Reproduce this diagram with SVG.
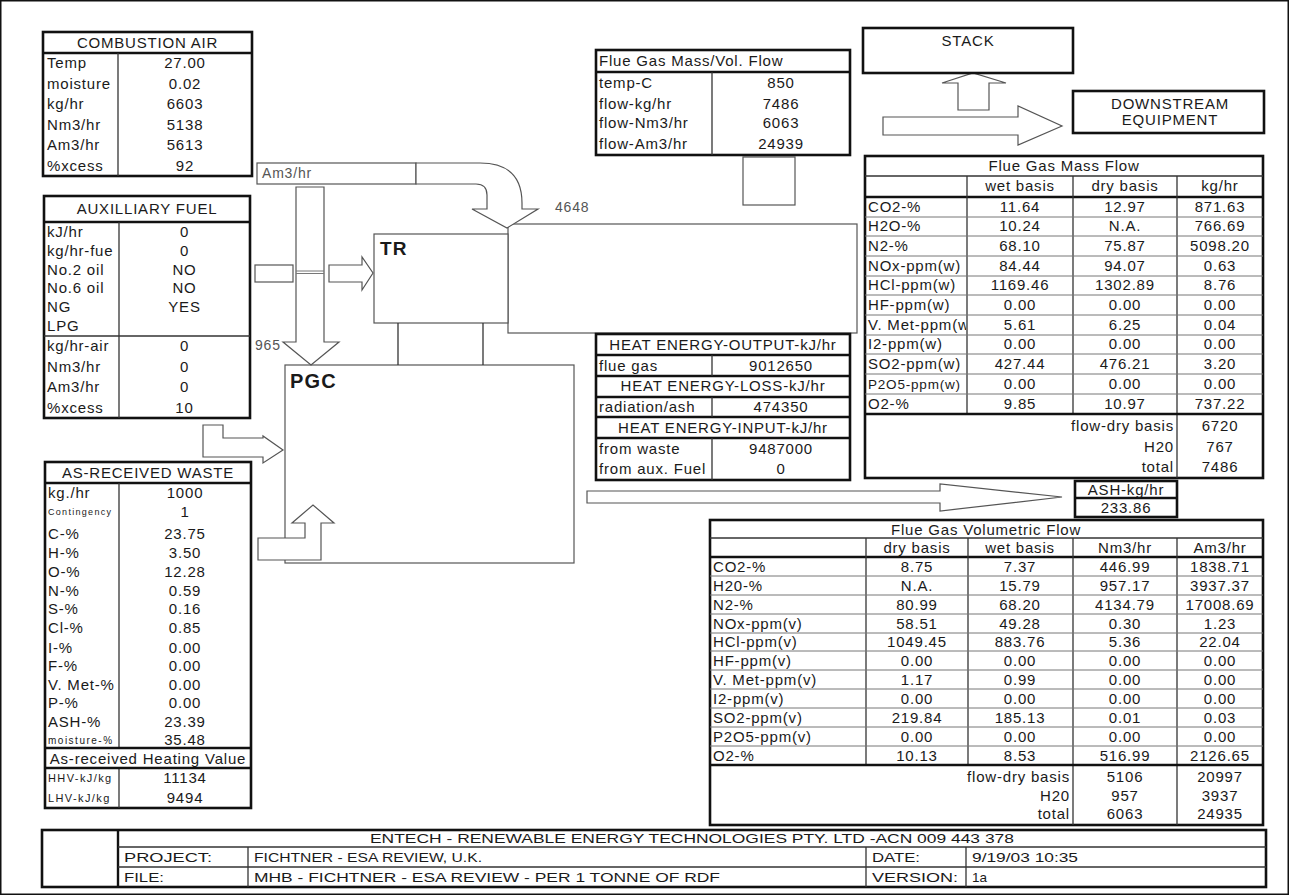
<svg xmlns="http://www.w3.org/2000/svg" width="1289" height="895" viewBox="0 0 1289 895">
<style>
text{font-family:"Liberation Sans",Arial,sans-serif;font-size:15px;letter-spacing:.8px;fill:#1a1a1a}
.c{text-anchor:middle}
.r{text-anchor:end}
.b{font-weight:bold;font-size:19px;letter-spacing:1.2px}
.g{fill:#555;font-size:14px}
.s9{font-size:9px;letter-spacing:1.3px}
.s10{font-size:10px;letter-spacing:1.5px}
.s11{font-size:11px;letter-spacing:1.4px}
.s13{font-size:13.5px}
.tt{font-size:13.5px;letter-spacing:0}
.tb{fill:none;stroke:#111;stroke-width:2.6}
.tk{stroke:#111;stroke-width:2.4}
.ln{stroke:#333;stroke-width:1.3}
.lt{stroke:#777;stroke-width:1}
.sh{fill:#fff;stroke:#555;stroke-width:1.2}
.ar{fill:#fff;stroke:#555;stroke-width:1.2;stroke-linejoin:miter}
</style>
<defs>
<clipPath id="cl1"><rect x="865" y="197" width="101" height="217"/></clipPath>
<clipPath id="cl2"><rect x="596" y="438" width="115" height="42"/></clipPath>
</defs>
<rect x="0.75" y="0.75" width="1287.5" height="893.5" fill="#fff" stroke="#111" stroke-width="1.5"/>

<g id="duct"><rect class="sh" x="508" y="224" width="349" height="109"/></g>
<g id="tr"><rect class="sh" x="374" y="234" width="134" height="89"/><text class="b" x="380" y="255">TR</text></g>
<g id="pgc"><rect class="sh" x="285" y="365" width="289" height="198"/><text class="b" x="290" y="388" style="font-size:20px">PGC</text></g>
<g id="am3-box"><rect class="sh" x="257" y="163" width="159" height="21"/><text class="g" x="262" y="178">Am3/hr</text></g>
<g id="small-box"><rect class="sh" x="743" y="157" width="52" height="48"/></g>

<g id="connectors">
<line class="ln" x1="398" y1="323" x2="398" y2="365"/>
<line class="ln" x1="483" y1="323" x2="483" y2="365"/>
<path class="ar" d="M416,163 L480,163 Q522,163 522,203 L522,209 L538,209 L507,228 L472,209 L487,209 L487,195 Q487,184 476,184 L416,184 Z"/>
<path class="ar" d="M296,187 L324,187 L324,342 L339,342 L311,365 L283,342 L296,342 Z"/>
<line class="lt" x1="296" y1="271" x2="324" y2="271"/>
<line class="lt" x1="296" y1="273.5" x2="324" y2="273.5"/>
<rect class="ar" x="255" y="265" width="38" height="17"/>
<path class="ar" d="M329,265 L362,265 L362,257 L373,273 L362,290 L362,282 L329,282 Z"/>
<path class="ar" d="M203,425 L223,425 L223,438 L263,438 L263,436 L283,450 L263,463 L263,457 L203,457 Z"/>
<path class="ar" d="M258,538 L305,538 L305,523 L292,523 L313,505 L334,523 L321,523 L321,560 L258,560 Z"/>
<path class="ar" d="M587,491 L940,491 L940,484 L1062,497 L940,511 L940,503 L587,503 Z"/>
<path class="ar" d="M958,110 L958,83 L942,83 L973,73 L1006,83 L989,83 L989,110 Z"/>
<path class="ar" d="M883,117 L1018,117 L1018,106 L1062,126 L1018,145 L1018,135 L883,135 Z"/>
<text class="g" x="555" y="212">4648</text>
<text class="g" x="255" y="350">965</text>
</g>

<g id="combustion-air">
<rect class="tb" x="43" y="32" width="209" height="144"/>
<line class="tk" x1="43" y1="53" x2="252" y2="53"/>
<line class="ln" x1="118" y1="53" x2="118" y2="176"/>
<text class="c" x="147.5" y="48">COMBUSTION AIR</text>
<text x="47" y="68">Temp</text><text class="c" x="185" y="68">27.00</text>
<text x="47" y="89">moisture</text><text class="c" x="185" y="89">0.02</text>
<text x="47" y="109">kg/hr</text><text class="c" x="185" y="109">6603</text>
<text x="47" y="130">Nm3/hr</text><text class="c" x="185" y="130">5138</text>
<text x="47" y="150">Am3/hr</text><text class="c" x="185" y="150">5613</text>
<text x="47" y="171">%xcess</text><text class="c" x="185" y="171">92</text>
</g>

<g id="auxilliary-fuel">
<rect class="tb" x="44" y="196" width="206" height="222"/>
<line class="tk" x1="44" y1="222" x2="250" y2="222"/>
<line class="ln" x1="119" y1="222" x2="119" y2="418"/>
<line class="ln" x1="44" y1="336" x2="250" y2="336"/>
<text class="c" x="147" y="214">AUXILLIARY FUEL</text>
<text x="47" y="237">kJ/hr</text><text class="c" x="184.5" y="237">0</text>
<text x="47" y="256">kg/hr-fue</text><text class="c" x="184.5" y="256">0</text>
<text x="47" y="275">No.2 oil</text><text class="c" x="184.5" y="275">NO</text>
<text x="47" y="293">No.6 oil</text><text class="c" x="184.5" y="293">NO</text>
<text x="47" y="312">NG</text><text class="c" x="184.5" y="312">YES</text>
<text x="47" y="331">LPG</text>
<text x="47" y="351">kg/hr-air</text><text class="c" x="184.5" y="351">0</text>
<text x="47" y="372">Nm3/hr</text><text class="c" x="184.5" y="372">0</text>
<text x="47" y="392">Am3/hr</text><text class="c" x="184.5" y="392">0</text>
<text x="47" y="413">%xcess</text><text class="c" x="184.5" y="413">10</text>
</g>

<g id="as-received-waste">
<rect class="tb" x="45" y="462" width="206" height="346"/>
<line class="tk" x1="45" y1="483" x2="251" y2="483"/>
<line class="ln" x1="119" y1="483" x2="119" y2="748"/>
<line class="ln" x1="119" y1="768" x2="119" y2="808"/>
<line class="tk" x1="45" y1="748" x2="251" y2="748"/>
<line class="tk" x1="45" y1="768" x2="251" y2="768"/>
<text class="c" x="148" y="478">AS-RECEIVED WASTE</text>
<text x="48" y="498">kg./hr</text><text class="c" x="185" y="498">1000</text>
<text class="s9" x="48" y="515">Contingency</text><text class="c" x="185" y="517">1</text>
<text x="48" y="539">C-%</text><text class="c" x="185" y="539">23.75</text>
<text x="48" y="558">H-%</text><text class="c" x="185" y="558">3.50</text>
<text x="48" y="577">O-%</text><text class="c" x="185" y="577">12.28</text>
<text x="48" y="596">N-%</text><text class="c" x="185" y="596">0.59</text>
<text x="48" y="614">S-%</text><text class="c" x="185" y="614">0.16</text>
<text x="48" y="633">Cl-%</text><text class="c" x="185" y="633">0.85</text>
<text x="48" y="653">I-%</text><text class="c" x="185" y="653">0.00</text>
<text x="48" y="671">F-%</text><text class="c" x="185" y="671">0.00</text>
<text x="48" y="690">V. Met-%</text><text class="c" x="185" y="690">0.00</text>
<text x="48" y="708">P-%</text><text class="c" x="185" y="708">0.00</text>
<text x="48" y="727">ASH-%</text><text class="c" x="185" y="727">23.39</text>
<text class="s10" x="48" y="744">moisture-%</text><text class="c" x="185" y="745">35.48</text>
<text class="c" x="148" y="764">As-received Heating Value</text>
<text class="s11" x="48" y="782">HHV-kJ/kg</text><text class="c" x="185" y="783">11134</text>
<text class="s11" x="48" y="802">LHV-kJ/kg</text><text class="c" x="185" y="803">9494</text>
</g>

<g id="flue-gas-mass-vol">
<rect class="tb" x="596" y="50" width="254" height="105"/>
<line class="tk" x1="596" y1="72" x2="850" y2="72"/>
<line class="ln" x1="712" y1="72" x2="712" y2="155"/>
<text x="599" y="66">Flue Gas Mass/Vol. Flow</text>
<text x="599" y="88">temp-C</text><text class="c" x="781" y="88">850</text>
<text x="599" y="109">flow-kg/hr</text><text class="c" x="781" y="109">7486</text>
<text x="599" y="128">flow-Nm3/hr</text><text class="c" x="781" y="128">6063</text>
<text x="599" y="149">flow-Am3/hr</text><text class="c" x="781" y="149">24939</text>
</g>

<g id="heat-energy">
<rect class="tb" x="596" y="334" width="254" height="146"/>
<line class="tk" x1="596" y1="355" x2="850" y2="355"/>
<line class="tk" x1="596" y1="376" x2="850" y2="376"/>
<line class="tk" x1="596" y1="397" x2="850" y2="397"/>
<line class="tk" x1="596" y1="417" x2="850" y2="417"/>
<line class="tk" x1="596" y1="438" x2="850" y2="438"/>
<line class="ln" x1="712" y1="355" x2="712" y2="376"/>
<line class="ln" x1="712" y1="397" x2="712" y2="417"/>
<line class="ln" x1="712" y1="438" x2="712" y2="480"/>
<text class="c" x="723" y="350">HEAT ENERGY-OUTPUT-kJ/hr</text>
<text x="599" y="371">flue gas</text><text class="c" x="781" y="371">9012650</text>
<text class="c" x="723" y="391">HEAT ENERGY-LOSS-kJ/hr</text>
<text x="599" y="412">radiation/ash</text><text class="c" x="781" y="412">474350</text>
<text class="c" x="723" y="433">HEAT ENERGY-INPUT-kJ/hr</text>
<text x="599" y="454">from waste</text><text class="c" x="781" y="454">9487000</text>
<text x="599" y="474" clip-path="url(#cl2)">from aux. Fuel</text><text class="c" x="781" y="474">0</text>
</g>

<g id="stack">
<rect class="tb" x="863" y="28" width="210" height="45"/>
<text class="c" x="968" y="46">STACK</text>
</g>
<g id="downstream">
<rect class="tb" x="1073" y="91" width="191" height="42"/>
<text class="c" x="1170" y="109">DOWNSTREAM</text>
<text class="c" x="1170" y="125">EQUIPMENT</text>
</g>

<g id="flue-gas-mass-flow">
<rect class="tb" x="865" y="156" width="398" height="322"/>
<line class="ln" x1="865" y1="176" x2="1263" y2="176"/>
<line class="tk" x1="865" y1="197" x2="1263" y2="197"/>
<line class="ln" x1="967" y1="176" x2="967" y2="414"/>
<line class="ln" x1="1073" y1="176" x2="1073" y2="414"/>
<line class="ln" x1="1177" y1="176" x2="1177" y2="478"/>
<g class="lt">
<line x1="865" y1="217" x2="1263" y2="217"/><line x1="865" y1="236" x2="1263" y2="236"/>
<line x1="865" y1="256" x2="1263" y2="256"/><line x1="865" y1="276" x2="1263" y2="276"/>
<line x1="865" y1="295" x2="1263" y2="295"/><line x1="865" y1="315" x2="1263" y2="315"/>
<line x1="865" y1="335" x2="1263" y2="335"/><line x1="865" y1="354" x2="1263" y2="354"/>
<line x1="865" y1="374" x2="1263" y2="374"/><line x1="865" y1="394" x2="1263" y2="394"/>
</g>
<line class="tk" x1="865" y1="414" x2="1263" y2="414"/>
<text class="c" x="1064" y="171">Flue Gas Mass Flow</text>
<text class="c" x="1020" y="191">wet basis</text><text class="c" x="1125" y="191">dry basis</text><text class="c" x="1220" y="191">kg/hr</text>
<text x="868" y="212">CO2-%</text><text class="c" x="1020" y="212">11.64</text><text class="c" x="1125" y="212">12.97</text><text class="c" x="1220" y="212">871.63</text>
<text x="868" y="231">H2O-%</text><text class="c" x="1020" y="231">10.24</text><text class="c" x="1125" y="231">N.A.</text><text class="c" x="1220" y="231">766.69</text>
<text x="868" y="251">N2-%</text><text class="c" x="1020" y="251">68.10</text><text class="c" x="1125" y="251">75.87</text><text class="c" x="1220" y="251">5098.20</text>
<text x="868" y="271">NOx-ppm(w)</text><text class="c" x="1020" y="271">84.44</text><text class="c" x="1125" y="271">94.07</text><text class="c" x="1220" y="271">0.63</text>
<text x="868" y="290">HCl-ppm(w)</text><text class="c" x="1020" y="290">1169.46</text><text class="c" x="1125" y="290">1302.89</text><text class="c" x="1220" y="290">8.76</text>
<text x="868" y="310">HF-ppm(w)</text><text class="c" x="1020" y="310">0.00</text><text class="c" x="1125" y="310">0.00</text><text class="c" x="1220" y="310">0.00</text>
<text x="868" y="330" clip-path="url(#cl1)">V. Met-ppm(w</text><text class="c" x="1020" y="330">5.61</text><text class="c" x="1125" y="330">6.25</text><text class="c" x="1220" y="330">0.04</text>
<text x="868" y="349">I2-ppm(w)</text><text class="c" x="1020" y="349">0.00</text><text class="c" x="1125" y="349">0.00</text><text class="c" x="1220" y="349">0.00</text>
<text x="868" y="369">SO2-ppm(w)</text><text class="c" x="1020" y="369">427.44</text><text class="c" x="1125" y="369">476.21</text><text class="c" x="1220" y="369">3.20</text>
<text class="s13" x="868" y="389">P2O5-ppm(w)</text><text class="c" x="1020" y="389">0.00</text><text class="c" x="1125" y="389">0.00</text><text class="c" x="1220" y="389">0.00</text>
<text x="868" y="409">O2-%</text><text class="c" x="1020" y="409">9.85</text><text class="c" x="1125" y="409">10.97</text><text class="c" x="1220" y="409">737.22</text>
<text class="r" x="1174" y="431">flow-dry basis</text><text class="c" x="1220" y="431">6720</text>
<text class="r" x="1174" y="452">H20</text><text class="c" x="1220" y="452">767</text>
<text class="r" x="1174" y="472">total</text><text class="c" x="1220" y="472">7486</text>
</g>

<g id="ash">
<rect class="tb" x="1075" y="481" width="102" height="36"/>
<line class="tk" x1="1075" y1="498" x2="1177" y2="498"/>
<text class="c" x="1126" y="495">ASH-kg/hr</text>
<text class="c" x="1126" y="513">233.86</text>
</g>

<g id="flue-gas-volumetric-flow">
<rect class="tb" x="710" y="520" width="553" height="305"/>
<line class="ln" x1="710" y1="538" x2="1263" y2="538"/>
<line class="tk" x1="710" y1="557" x2="1263" y2="557"/>
<line class="ln" x1="866" y1="538" x2="866" y2="765"/>
<line class="ln" x1="968" y1="538" x2="968" y2="765"/>
<line class="ln" x1="1073" y1="538" x2="1073" y2="825"/>
<line class="ln" x1="1177" y1="538" x2="1177" y2="825"/>
<g class="lt">
<line x1="710" y1="576" x2="1263" y2="576"/><line x1="710" y1="595" x2="1263" y2="595"/>
<line x1="710" y1="614" x2="1263" y2="614"/><line x1="710" y1="633" x2="1263" y2="633"/>
<line x1="710" y1="651" x2="1263" y2="651"/><line x1="710" y1="670" x2="1263" y2="670"/>
<line x1="710" y1="689" x2="1263" y2="689"/><line x1="710" y1="708" x2="1263" y2="708"/>
<line x1="710" y1="727" x2="1263" y2="727"/><line x1="710" y1="746" x2="1263" y2="746"/>
</g>
<line class="tk" x1="710" y1="765" x2="1263" y2="765"/>
<text class="c" x="986" y="535">Flue Gas Volumetric Flow</text>
<text class="c" x="917" y="553">dry basis</text><text class="c" x="1020" y="553">wet basis</text><text class="c" x="1125" y="553">Nm3/hr</text><text class="c" x="1220" y="553">Am3/hr</text>
<text x="713" y="572">CO2-%</text><text class="c" x="917" y="572">8.75</text><text class="c" x="1020" y="572">7.37</text><text class="c" x="1125" y="572">446.99</text><text class="c" x="1220" y="572">1838.71</text>
<text x="713" y="591">H20-%</text><text class="c" x="917" y="591">N.A.</text><text class="c" x="1020" y="591">15.79</text><text class="c" x="1125" y="591">957.17</text><text class="c" x="1220" y="591">3937.37</text>
<text x="713" y="610">N2-%</text><text class="c" x="917" y="610">80.99</text><text class="c" x="1020" y="610">68.20</text><text class="c" x="1125" y="610">4134.79</text><text class="c" x="1220" y="610">17008.69</text>
<text x="713" y="629">NOx-ppm(v)</text><text class="c" x="917" y="629">58.51</text><text class="c" x="1020" y="629">49.28</text><text class="c" x="1125" y="629">0.30</text><text class="c" x="1220" y="629">1.23</text>
<text x="713" y="647">HCl-ppm(v)</text><text class="c" x="917" y="647">1049.45</text><text class="c" x="1020" y="647">883.76</text><text class="c" x="1125" y="647">5.36</text><text class="c" x="1220" y="647">22.04</text>
<text x="713" y="666">HF-ppm(v)</text><text class="c" x="917" y="666">0.00</text><text class="c" x="1020" y="666">0.00</text><text class="c" x="1125" y="666">0.00</text><text class="c" x="1220" y="666">0.00</text>
<text x="713" y="685">V. Met-ppm(v)</text><text class="c" x="917" y="685">1.17</text><text class="c" x="1020" y="685">0.99</text><text class="c" x="1125" y="685">0.00</text><text class="c" x="1220" y="685">0.00</text>
<text x="713" y="704">I2-ppm(v)</text><text class="c" x="917" y="704">0.00</text><text class="c" x="1020" y="704">0.00</text><text class="c" x="1125" y="704">0.00</text><text class="c" x="1220" y="704">0.00</text>
<text x="713" y="723">SO2-ppm(v)</text><text class="c" x="917" y="723">219.84</text><text class="c" x="1020" y="723">185.13</text><text class="c" x="1125" y="723">0.01</text><text class="c" x="1220" y="723">0.03</text>
<text x="713" y="742">P2O5-ppm(v)</text><text class="c" x="917" y="742">0.00</text><text class="c" x="1020" y="742">0.00</text><text class="c" x="1125" y="742">0.00</text><text class="c" x="1220" y="742">0.00</text>
<text x="713" y="761">O2-%</text><text class="c" x="917" y="761">10.13</text><text class="c" x="1020" y="761">8.53</text><text class="c" x="1125" y="761">516.99</text><text class="c" x="1220" y="761">2126.65</text>
<text class="r" x="1070" y="782">flow-dry basis</text><text class="c" x="1125" y="782">5106</text><text class="c" x="1220" y="782">20997</text>
<text class="r" x="1070" y="801">H20</text><text class="c" x="1125" y="801">957</text><text class="c" x="1220" y="801">3937</text>
<text class="r" x="1070" y="819">total</text><text class="c" x="1125" y="819">6063</text><text class="c" x="1220" y="819">24935</text>
</g>

<g id="title-block">
<rect class="tb" x="42" y="830" width="1224" height="57"/>
<line class="tk" x1="118" y1="830" x2="118" y2="887"/>
<line class="ln" x1="118" y1="847" x2="1266" y2="847"/>
<line class="ln" x1="118" y1="867" x2="1266" y2="867"/>
<line class="ln" x1="248" y1="847" x2="248" y2="887"/>
<line class="ln" x1="866" y1="847" x2="866" y2="887"/>
<line class="ln" x1="966" y1="847" x2="966" y2="887"/>
<text class="tt" x="370" y="843" textLength="644" lengthAdjust="spacingAndGlyphs">ENTECH - RENEWABLE ENERGY TECHNOLOGIES PTY. LTD -ACN 009 443 378</text>
<text class="tt" x="124" y="862" textLength="88" lengthAdjust="spacingAndGlyphs">PROJECT:</text>
<text class="tt" x="254" y="862" textLength="228" lengthAdjust="spacingAndGlyphs">FICHTNER - ESA REVIEW, U.K.</text>
<text class="tt" x="872" y="862" textLength="48" lengthAdjust="spacingAndGlyphs">DATE:</text>
<text class="tt" x="972" y="862" textLength="106" lengthAdjust="spacingAndGlyphs">9/19/03 10:35</text>
<text class="tt" x="124" y="882" textLength="40" lengthAdjust="spacingAndGlyphs">FILE:</text>
<text class="tt" x="254" y="882" textLength="466" lengthAdjust="spacingAndGlyphs">MHB - FICHTNER - ESA REVIEW - PER 1 TONNE OF RDF</text>
<text class="tt" x="872" y="882" textLength="86" lengthAdjust="spacingAndGlyphs">VERSION:</text>
<text class="tt" x="972" y="882">1a</text>
</g>
</svg>
